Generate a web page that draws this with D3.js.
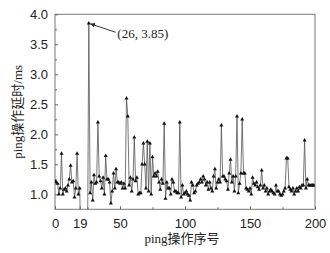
<!DOCTYPE html>
<html>
<head>
<meta charset="utf-8">
<script src="https://cdn.jsdelivr.net/npm/d3@7"></script>
<style>
  body { margin: 0; background: #fff; }
  svg { display: block; font-family: "Liberation Serif", "Noto Sans CJK SC", serif; }
  .tick text { font-size: 13px; fill: #222; }
</style>
</head>
<body>
<svg id="chart"></svg>
<script>
// ping delay (ms) for ping no. 0..199, lost pings (20-25) read as 0
const delay = [
  1.22, 1.20, 1.18, 1.00, 1.10, 1.68, 1.00, 1.08, 1.10, 1.05,
  1.15, 1.25, 1.48, 1.20, 1.22, 0.95, 1.10, 1.68, 1.00, 1.10,
  0, 0, 0, 0, 0, 0, 3.85, 1.02, 1.20, 0.90,
  1.32, 1.18, 1.20, 2.20, 1.30, 1.22, 1.10, 1.28, 1.00, 1.64,
  1.25, 1.25, 1.20, 0.85, 1.05, 1.35, 1.10, 1.42, 1.20, 1.20,
  1.18, 1.20, 1.10, 1.18, 1.10, 2.60, 2.30, 1.15, 1.28, 1.05,
  1.25, 1.95, 1.22, 1.28, 1.00, 1.02, 1.02, 1.50, 1.85, 1.50,
  1.10, 1.88, 1.05, 1.85, 1.00, 1.62, 1.30, 1.35, 1.30, 1.38,
  1.20, 1.08, 1.25, 1.18, 2.18, 0.93, 1.20, 1.10, 1.10, 1.00,
  1.25, 1.20, 1.05, 1.05, 1.02, 1.02, 2.20, 0.95, 1.15, 1.00,
  1.02, 1.05, 1.00, 0.98, 0.90, 1.20, 1.15, 1.02, 1.05, 1.15,
  1.18, 1.20, 1.25, 1.20, 1.30, 1.25, 1.15, 1.20, 1.08, 1.20,
  1.10, 1.05, 1.30, 1.42, 1.10, 1.20, 1.25, 1.20, 2.15, 1.30,
  1.30, 1.25, 1.22, 1.08, 1.35, 1.58, 1.20, 1.30, 1.05, 1.30,
  2.30, 1.02, 1.18, 1.35, 2.25, 1.35, 1.35, 1.10, 1.08, 1.05,
  1.10, 1.00, 1.28, 1.18, 1.15, 1.20, 1.12, 1.08, 1.15, 1.40,
  1.10, 1.15, 1.05, 1.10, 1.00, 1.05, 1.08, 1.05, 1.02, 1.00,
  1.15, 1.05, 1.05, 1.00, 0.98, 1.00, 1.05, 1.10, 1.60, 1.60,
  1.12, 1.08, 1.05, 1.10, 1.00, 1.05, 1.10, 1.05, 1.12, 1.10,
  1.15, 1.15, 1.90, 1.10, 1.25, 1.15, 1.15, 1.15, 1.15, 1.15
];
const pingNo = d3.range(delay.length);

const xTicks = [0, 19, 50, 100, 150, 200];
const xMinor = [25, 75, 125, 175];
const yTicks = [1.0, 1.5, 2.0, 2.5, 3.0, 3.5, 4.0];
const yMinor = [1.25, 1.75, 2.25, 2.75, 3.25, 3.75];
const peak = { x: 26, y: 3.85, label: "(26, 3.85)" };

const width = 330, height = 253;
const padL = 55, padR = 315, padT = 14.3, padB = 209.3;

const svg = d3.select("#chart").attr("width", width).attr("height", height);

const x = d3.scaleLinear().domain([0, 200]).range([padL, padR]);
const y = d3.scaleLinear().domain([0.75, 4.0]).range([padB, padT]);

svg.append("defs").append("clipPath").attr("id", "clip")
  .append("rect")
  .attr("x", padL).attr("y", padT)
  .attr("width", padR - padL).attr("height", padB - padT);

// frame
svg.append("rect")
  .attr("x", padL).attr("y", padT)
  .attr("width", padR - padL).attr("height", padB - padT)
  .attr("fill", "none").attr("stroke", "#777").attr("stroke-width", 1);

// axes, ticks point inward
svg.append("g").attr("transform", `translate(0,${padB})`)
  .call(d3.axisBottom(x).tickValues(xTicks).tickSizeInner(-3).tickSizeOuter(0).tickPadding(9));
svg.append("g").attr("transform", `translate(0,${padB})`)
  .call(d3.axisBottom(x).tickValues(xMinor).tickSize(-2).tickFormat(""));
svg.append("g").attr("transform", `translate(${padL},0)`)
  .call(d3.axisLeft(y).tickValues(yTicks).tickFormat(d3.format(".1f")).tickSizeInner(-3).tickSizeOuter(0).tickPadding(7));
svg.append("g").attr("transform", `translate(${padL},0)`)
  .call(d3.axisLeft(y).tickValues(yMinor).tickSize(-2).tickFormat(""));
svg.selectAll(".domain").remove();
svg.selectAll(".tick line").attr("stroke", "#666");

// series
const plot = svg.append("g").attr("clip-path", "url(#clip)");
const line = d3.line().x((d, i) => x(pingNo[i])).y(d => y(d));
plot.append("path")
  .datum(delay)
  .attr("d", line)
  .attr("fill", "none")
  .attr("stroke", "#555")
  .attr("stroke-width", 0.8);

const tri = d3.symbol().type(d3.symbolTriangle).size(7);
plot.selectAll(".mk")
  .data(delay)
  .enter()
  .append("path")
  .attr("class", "mk")
  .attr("transform", (d, i) => `translate(${x(pingNo[i])},${y(d)})`)
  .attr("d", tri)
  .attr("fill", "#111");

// annotation
svg.append("defs").append("marker")
  .attr("id", "arr").attr("viewBox", "0 0 10 10")
  .attr("refX", 10).attr("refY", 5)
  .attr("markerWidth", 7).attr("markerHeight", 5).attr("orient", "auto")
  .append("path").attr("d", "M0,0L10,5L0,10Z").attr("fill", "#222");
svg.append("line")
  .attr("x1", x(peak.x) + 27).attr("y1", y(peak.y) + 9)
  .attr("x2", x(peak.x) + 1.5).attr("y2", y(peak.y) + 0.5)
  .attr("stroke", "#222").attr("stroke-width", 0.9)
  .attr("marker-end", "url(#arr)");
svg.append("text")
  .attr("x", x(peak.x) + 28.5).attr("y", y(peak.y) + 15)
  .attr("font-size", 13).attr("fill", "#222")
  .text(peak.label);

// axis titles
svg.append("text")
  .attr("x", 182).attr("y", 243)
  .attr("text-anchor", "middle").attr("font-size", 13).attr("fill", "#222")
  .text("ping操作序号");
svg.append("text")
  .attr("transform", `translate(22,${(padT + padB) / 2}) rotate(-90)`)
  .attr("text-anchor", "middle").attr("font-size", 13).attr("fill", "#222")
  .text("ping操作延时/ms");
</script>
</body>
</html>
